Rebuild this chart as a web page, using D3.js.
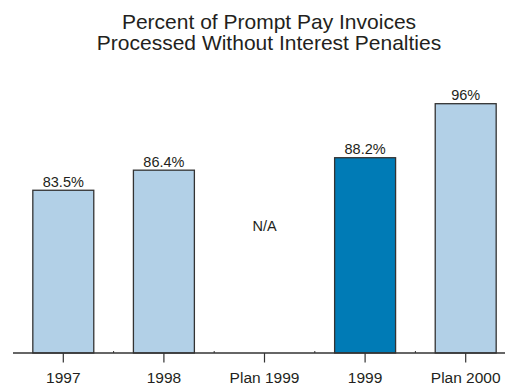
<!DOCTYPE html>
<html>
<head>
<meta charset="utf-8">
<script src="https://cdn.jsdelivr.net/npm/d3@7"></script>
<style>
  html, body { margin: 0; padding: 0; background: #fff; }
  svg { display: block; font-family: "Liberation Sans", Arial, sans-serif; }
</style>
</head>
<body>
<svg id="chart" width="505" height="385"></svg>
<script>
// Prompt pay invoice performance by period
const categories = ["1997", "1998", "Plan 1999", "1999", "Plan 2000"];
const values = [83.5, 86.4, null, 88.2, 96];
const valueLabels = ["83.5%", "86.4%", "N/A", "88.2%", "96%"];
const highlighted = ["1999"];
const titleLines = ["Percent of Prompt Pay Invoices", "Processed Without Interest Penalties"];

const svg = d3.select("#chart");
const margin = { left: 13, right: -11, top: 76, bottom: 32 };
const W = 505, H = 385;

const x = d3.scaleBand()
  .domain(categories)
  .range([margin.left, W - margin.right])
  .paddingInner(0.394)
  .paddingOuter(0.197);

const y = d3.scaleLinear()
  .domain([60, 100])
  .range([H - margin.bottom, margin.top]);

const data = categories.map((c, i) => ({ cat: c, value: values[i], label: valueLabels[i] }));

// Title
svg.append("g").selectAll("text")
  .data(titleLines)
  .join("text")
  .attr("x", 269)
  .attr("y", (d, i) => 28.5 + i * 21)
  .attr("text-anchor", "middle")
  .attr("font-size", 21)
  .attr("fill", "#231f20")
  .text(d => d);

// Bars
const withValue = data.filter(d => d.value != null);
svg.append("g").selectAll("rect")
  .data(withValue)
  .join("rect")
  .attr("x", d => x(d.cat))
  .attr("y", d => y(d.value))
  .attr("width", x.bandwidth())
  .attr("height", d => y(60) - y(d.value))
  .attr("fill", d => highlighted.includes(d.cat) ? "#007bb6" : "#b2d0e7")
  .attr("stroke", "#333")
  .attr("stroke-width", 1.3);

// Value labels
svg.append("g").selectAll("text")
  .data(data)
  .join("text")
  .attr("x", d => x(d.cat) + x.bandwidth() / 2)
  .attr("y", d => d.value != null ? y(d.value) - 3.5 : 231)
  .attr("text-anchor", "middle")
  .attr("font-size", 14.5)
  .attr("fill", "#231f20")
  .text(d => d.label);

// Category axis
const axisY = y(60);
const axis = d3.axisBottom(x).tickSize(9.5).tickPadding(9);
const gAxis = svg.append("g")
  .attr("transform", `translate(0,${axisY})`)
  .call(axis);
gAxis.select(".domain").remove();
gAxis.selectAll(".tick line").attr("stroke", "#333").attr("stroke-width", 1.2);
gAxis.selectAll(".tick text")
  .attr("font-size", 15.5)
  .attr("fill", "#231f20")
  .attr("font-family", "Liberation Sans, Arial, sans-serif");

svg.append("line")
  .attr("x1", margin.left).attr("x2", W)
  .attr("y1", axisY).attr("y2", axisY)
  .attr("stroke", "#333").attr("stroke-width", 1.3);

// Small marks at category boundaries
const bounds = categories.slice(1).map(c => x(c) - x.step() * x.paddingInner() / 2);
svg.append("g").selectAll("line")
  .data(bounds)
  .join("line")
  .attr("x1", d => d).attr("x2", d => d)
  .attr("y1", axisY - 2).attr("y2", axisY)
  .attr("stroke", "#333").attr("stroke-width", 1);
</script>
</body>
</html>
